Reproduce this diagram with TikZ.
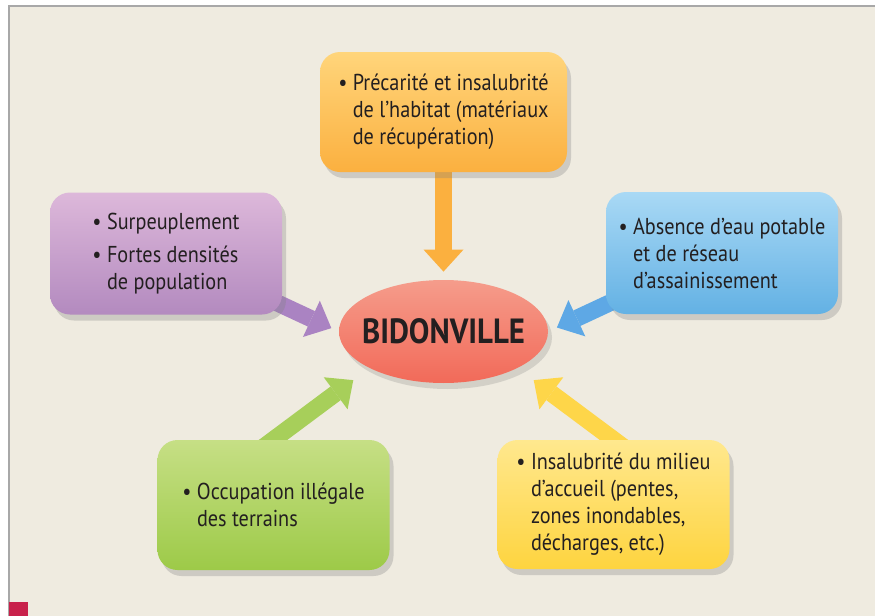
\documentclass[tikz,border=0pt]{standalone}
\usepackage{fontspec}
\setmainfont{PT Sans}[FakeStretch=0.88]
\usetikzlibrary{shapes.geometric,arrows.meta,shadows,backgrounds}
\definecolor{creme}{HTML}{EFEBE0}
\definecolor{cadre}{HTML}{A8A8A8}
\definecolor{encre}{HTML}{231F20}
\definecolor{rougecoin}{HTML}{C8214B}
\definecolor{orangeh}{HTML}{FFD57B}\definecolor{orangeb}{HTML}{FBB03F}
\definecolor{violeth}{HTML}{DDB8DA}\definecolor{violetb}{HTML}{B38ABF}
\definecolor{bleuh}{HTML}{A9D9F5}\definecolor{bleub}{HTML}{63B1E4}
\definecolor{verth}{HTML}{C6DF85}\definecolor{vertb}{HTML}{9DCA48}
\definecolor{jauneh}{HTML}{FFE88E}\definecolor{jauneb}{HTML}{FED43F}
\definecolor{rougeh}{HTML}{F59C8B}\definecolor{rougeb}{HTML}{F26A59}
\tikzset{
  boite/.style={rounded corners=10pt, minimum width=116pt, minimum height=61pt,
    align=left, text=encre, font=\fontsize{11.5}{13.5}\selectfont,
    drop shadow={shadow xshift=2pt, shadow yshift=-3pt, opacity=0.3}},
  fleche/.style={line width=8.5pt, shorten <=-8pt,
    -{Triangle[length=11pt, width=20pt, line width=0pt]}}
}
\newcommand{\puce}{\textbullet\ }
\newcommand{\suite}{\phantom{\textbullet\ }}

\begin{document}
\begin{tikzpicture}[x=0.5pt, y=-0.5pt]
	\useasboundingbox (0,0) rectangle (875,616);
	\node[boite, top color=orangeh, bottom color=orangeb, minimum width=123.5pt, minimum height=60pt] (habitat) at (443.5,112)
	  {\puce Précarité et insalubrité\\ \suite de l’habitat (matériaux\\ \suite de récupération)};
	\node[boite, top color=violeth, bottom color=violetb] (densite) at (166,253.5)
	  {\puce Surpeuplement\\[3pt] \puce Fortes densités\\ \suite de population};
	\node[boite, top color=bleuh, bottom color=bleub] (eau) at (722,253)
	  {\puce Absence d’eau potable\\ \suite et de réseau\\ \suite d’assainissement};
	\node[boite, top color=verth, bottom color=vertb, minimum height=65pt] (terrain) at (273.5,505)
	  {\puce Occupation illégale\\ \suite des terrains};
	\node[boite, top color=jauneh, bottom color=jauneb, minimum height=64.5pt] (milieu) at (613.5,504.5)
	  {\puce Insalubrité du milieu\\ \suite d’accueil (pentes,\\ \suite zones inondables,\\ \suite décharges, etc.)};
	\node[ellipse, inner xsep=-6pt, inner ysep=0pt, minimum width=104.5pt, minimum height=51.5pt, top color=rougeh, bottom color=rougeb,
	  text=encre, font=\bfseries\fontsize{17.5}{20}\selectfont,
	  drop shadow={shadow xshift=2pt, shadow yshift=-3pt, opacity=0.25}] (bidon) at (443.5,331.5) {BIDONVILLE};
	\begin{scope}[on background layer]
	\fill[white] (0,0) rectangle (875,616);
	\fill[creme] (9,6) rectangle (875,616);
	\draw[cadre, line width=0.75pt] (9,616) -- (9,6) -- (875,6);
	\fill[rougecoin] (9,602) rectangle (28,616);
	\draw[fleche, draw=orangeb] (habitat.south) -- (bidon.north) [shorten >=4pt];
	\draw[fleche, draw=violetb!95!blue, shorten >=4pt] (densite.-24) -- (bidon.west);
	\draw[fleche, draw=bleub!95!blue, shorten >=4.7pt] (eau.204) -- (bidon.east);
	\draw[fleche, draw=vertb!90!white, shorten >=10pt] (terrain.north) -- (bidon.south west);
	\draw[fleche, draw=jauneb!95!white, shorten >=10pt] (milieu.north) -- (bidon.south east);
	\end{scope}
\end{tikzpicture}
\end{document}
